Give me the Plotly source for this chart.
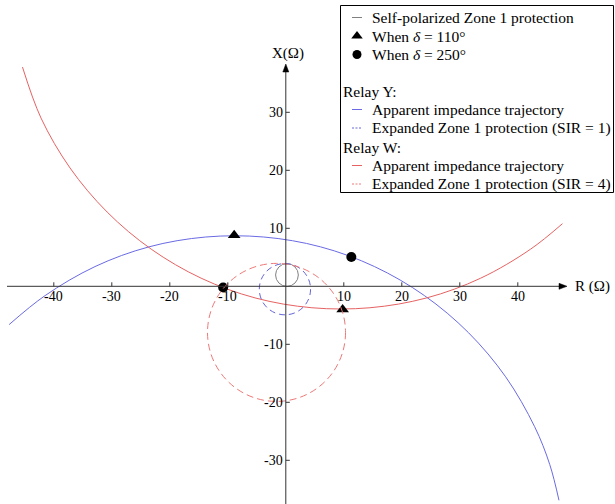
import plotly.graph_objects as go

# ---------------- data ----------------
# Relay Y apparent impedance trajectory (R, X in ohm)
y_traj_R = [-47.7, -41.5, -32.9, -23.6, -13.8, -3.8, 6.0, 15.3, 23.9, 31.5, 37.9, 42.9, 45.5, 47.1]
y_traj_X = [-6.6, -1.6, 3.4, 6.8, 8.5, 8.5, 6.8, 3.4, -1.6, -8.0, -15.6, -24.2, -30.7, -36.9]
# Relay W apparent impedance trajectory
w_traj_R = [-45.4, -42.2, -37.2, -30.8, -23.2, -14.6, -5.3, 4.5, 14.5, 24.3, 33.6, 42.2, 47.7]
w_traj_X = [37.8, 29.0, 20.4, 12.8, 6.4, 1.4, -2.0, -3.7, -3.7, -2.0, 1.4, 6.4, 10.8]

# Protection circles: self-polarized zone 1, expanded (SIR=1), expanded (SIR=4)
circle_center_R = [0.2, -0.15, -1.6]
circle_center_X = [1.95, -0.5, -7.95]
circle_radius = [1.96, 4.42, 11.9]

# Swing points
tri_R = [-8.9, 9.8]      # delta = 110 deg
tri_X = [8.8, -4.0]
dot_R = [-10.8, 11.3]    # delta = 250 deg
dot_X = [-0.2, 5.05]

x_ticks = [-40, -30, -20, -10, 10, 20, 30, 40]
y_ticks = [-30, -20, -10, 10, 20, 30]

legend_labels = [
    "Self-polarized Zone 1 protection",
    "When <i>δ</i> = 110°",
    "When <i>δ</i> = 250°",
    "Relay Y:",
    "Apparent impedance trajectory",
    "Expanded Zone 1 protection (SIR = 1)",
    "Relay W:",
    "Apparent impedance trajectory",
    "Expanded Zone 1 protection (SIR = 4)",
]

# ---------------- styling ----------------
W, H = 615, 504
OX, OY, S = 285.8, 286.3, 5.8          # origin pixel and pixels per ohm
FONT = "Liberation Serif"
BLUE = "#6a6ae4"
BLUE_D = "#6464d8"
RED = "#e66262"
RED_D = "#ee7878"
GRAY = "#808080"
AX = "#333333"

xr = [-OX / S, (W - OX) / S]
yr = [-(H - OY) / S, OY / S]

fig = go.Figure()

fig.add_trace(go.Scatter(x=y_traj_R, y=y_traj_X, mode="lines",
                         line=dict(color=BLUE, width=1, shape="spline"),
                         showlegend=False, hoverinfo="skip"))
fig.add_trace(go.Scatter(x=w_traj_R, y=w_traj_X, mode="lines",
                         line=dict(color=RED, width=1, shape="spline"),
                         showlegend=False, hoverinfo="skip"))

shapes = []
circ_styles = [(GRAY, "solid"), (BLUE_D, "6px,4px"), (RED_D, "7px,4px")]
for cr, cx, rad, (col, dash) in zip(circle_center_R, circle_center_X, circle_radius, circ_styles):
    shapes.append(dict(type="circle", xref="x", yref="y",
                       x0=cr - rad, x1=cr + rad, y0=cx - rad, y1=cx + rad,
                       line=dict(color=col, width=1, dash=dash), layer="above"))

# coordinate axes with arrows
x_end = (567 - OX) / S
y_end = (OY - 64) / S
al = 8 / S
aw = 3 / S
shapes.append(dict(type="line", xref="x", yref="y", x0=(7 - OX) / S, x1=x_end - al, y0=0, y1=0,
                   line=dict(color=AX, width=1)))
shapes.append(dict(type="line", xref="x", yref="y", x0=0, x1=0, y0=yr[0], y1=y_end - al,
                   line=dict(color=AX, width=1)))
shapes.append(dict(type="path", xref="x", yref="y",
                   path=f"M {x_end},0 L {x_end - al},{aw} L {x_end - al},{-aw} Z",
                   fillcolor="black", line=dict(color="black", width=0.5)))
shapes.append(dict(type="path", xref="x", yref="y",
                   path=f"M 0,{y_end} L {aw},{y_end - al} L {-aw},{y_end - al} Z",
                   fillcolor="black", line=dict(color="black", width=0.5)))
tl = 4 / S
annotations = []
for t in x_ticks:
    shapes.append(dict(type="line", xref="x", yref="y", x0=t, x1=t, y0=0, y1=tl,
                       line=dict(color=AX, width=1)))
    annotations.append(dict(x=t, y=0, xref="x", yref="y", text=str(t), showarrow=False,
                            xanchor="center", yanchor="top", yshift=-1,
                            font=dict(family=FONT, size=14, color="black")))
for t in y_ticks:
    shapes.append(dict(type="line", xref="x", yref="y", x0=0, x1=tl, y0=t, y1=t,
                       line=dict(color=AX, width=1)))
    annotations.append(dict(x=0, y=t, xref="x", yref="y", text=str(t), showarrow=False,
                            xanchor="right", yanchor="middle", xshift=-1,
                            font=dict(family=FONT, size=14, color="black")))
annotations.append(dict(x=(573 - OX) / S, y=0, xref="x", yref="y", text="R (Ω)", showarrow=False,
                        xanchor="left", yanchor="middle",
                        font=dict(family=FONT, size=15, color="black")))
annotations.append(dict(x=(288 - OX) / S, y=(OY - 53) / S, xref="x", yref="y", text="X(Ω)",
                        showarrow=False, xanchor="center", yanchor="middle",
                        font=dict(family=FONT, size=15, color="black")))

# swing markers
fig.add_trace(go.Scatter(x=tri_R, y=tri_X, mode="markers",
                         marker=dict(symbol="triangle-up", size=11, color="black"),
                         showlegend=False, hoverinfo="skip"))
fig.add_trace(go.Scatter(x=dot_R, y=dot_X, mode="markers",
                         marker=dict(symbol="circle", size=10, color="black"),
                         showlegend=False, hoverinfo="skip"))

# ---------------- hand-made legend (pixel coordinates on overlay axes) ----------------
rows_y = [17.5, 36, 54.5, 91, 109.5, 128, 147, 165.5, 184]
sym_x0, sym_x1, txt_x, head_x = 352, 362, 371, 342
shapes.append(dict(type="rect", xref="x2", yref="y2", x0=340.5, x1=613.5, y0=5.5, y1=192.5,
                   line=dict(color="black", width=1), fillcolor="white", layer="below"))
line_rows = {0: (GRAY, "solid"), 4: (BLUE, "solid"), 5: (BLUE_D, "2px,1.5px"),
             7: (RED, "solid"), 8: (RED_D, "2px,1.5px")}
for i, (col, dash) in line_rows.items():
    shapes.append(dict(type="line", xref="x2", yref="y2", x0=sym_x0, x1=sym_x1,
                       y0=rows_y[i], y1=rows_y[i], line=dict(color=col, width=1, dash=dash)))
fig.add_trace(go.Scatter(x=[(sym_x0 + sym_x1) / 2], y=[rows_y[1]], xaxis="x2", yaxis="y2",
                         mode="markers", marker=dict(symbol="triangle-up", size=10, color="black"),
                         showlegend=False, hoverinfo="skip"))
fig.add_trace(go.Scatter(x=[(sym_x0 + sym_x1) / 2], y=[rows_y[2]], xaxis="x2", yaxis="y2",
                         mode="markers", marker=dict(symbol="circle", size=9, color="black"),
                         showlegend=False, hoverinfo="skip"))
for i, lab in enumerate(legend_labels):
    x = head_x if lab.startswith("Relay") else txt_x
    annotations.append(dict(x=x, y=rows_y[i], xref="x2", yref="y2", text=lab, showarrow=False,
                            xanchor="left", yanchor="middle", borderpad=0,
                            font=dict(family=FONT, size=15.5, color="black")))

fig.update_layout(
    width=W, height=H, autosize=False,
    margin=dict(l=0, r=0, t=0, b=0, pad=0),
    paper_bgcolor="white", plot_bgcolor="white",
    showlegend=False,
    xaxis=dict(range=xr, visible=False, fixedrange=True),
    yaxis=dict(range=yr, visible=False, fixedrange=True),
    xaxis2=dict(range=[0, W], visible=False, overlaying="x", fixedrange=True),
    yaxis2=dict(range=[H, 0], visible=False, overlaying="y", fixedrange=True),
    shapes=shapes,
    annotations=annotations,
)

fig.write_html(
    "out.html",
    config={"displayModeBar": False, "staticPlot": True},
    post_script="document.body.style.margin='0px';document.body.style.overflow='hidden';",
)
